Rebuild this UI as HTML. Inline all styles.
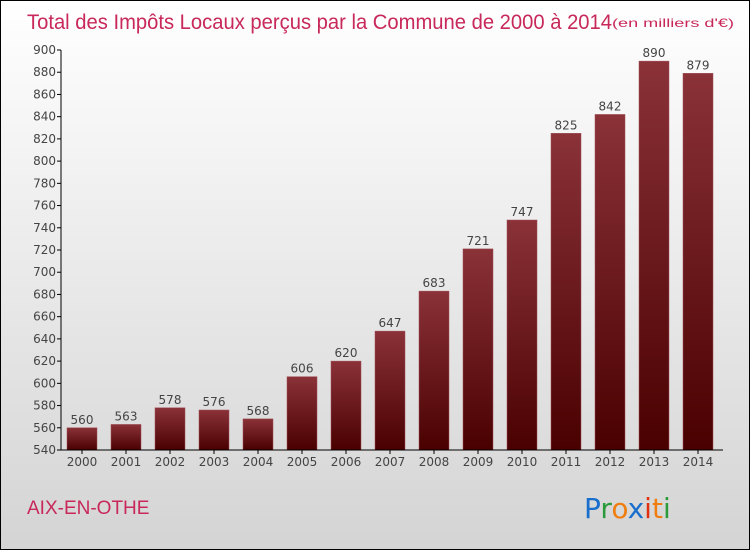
<!DOCTYPE html>
<html><head><meta charset="utf-8"><style>
body{margin:0}
#c{position:relative;width:748px;height:548px;border:1px solid #000;background:linear-gradient(#fff,#d4d4d4);font-family:"DejaVu Sans","Liberation Sans",sans-serif;overflow:hidden}
</style></head><body>
<div id="c">
<svg id="s" width="748" height="548" style="position:absolute;left:0;top:0">
<defs><linearGradient id="bg" x1="0" y1="0" x2="0" y2="1"><stop offset="0" stop-color="#8a3238"/><stop offset="1" stop-color="#4a0000"/></linearGradient></defs>
<text x="26" y="28" font-size="21" fill="#c8285a" font-family="Liberation Sans, sans-serif" textLength="585" lengthAdjust="spacingAndGlyphs">Total des Impôts Locaux perçus par la Commune de 2000 à 2014</text>
<text x="611" y="26" font-size="12" fill="#c8285a" font-family="Liberation Sans, sans-serif" textLength="122" lengthAdjust="spacingAndGlyphs">(en milliers d'€)</text>
<text x="26" y="513" font-size="19" fill="#c8285a" font-family="Liberation Sans, sans-serif">AIX-EN-OTHE</text>
<g font-size="28" font-family="DejaVu Sans, sans-serif"><text x="583" y="517"><tspan fill="#1a6fcc">P</tspan><tspan fill="#2a9a3a">r</tspan><tspan fill="#f07d10">o</tspan><tspan fill="#1a6fcc">x</tspan><tspan fill="#e03010">i</tspan><tspan fill="#f07d10">t</tspan><tspan fill="#2a9a3a">i</tspan></text></g>
<g id="g"></g>
</svg>
</div>
<script>
const years=["2000","2001","2002","2003","2004","2005","2006","2007","2008","2009","2010","2011","2012","2013","2014"];
const values=[560,563,578,576,568,606,620,647,683,721,747,825,842,890,879];
const ticks=[540,560,580,600,620,640,660,680,700,720,740,760,780,800,820,840,860,880,900];
const yMin=540,yMax=900,plotTop=49,plotBot=449,axX=60;
const y=v=>plotBot-(v-yMin)/(yMax-yMin)*(plotBot-plotTop);
const x=i=>81+i*44;
const g=document.getElementById('g');const NS='http://www.w3.org/2000/svg';
function mk(t,a,txt){const e=document.createElementNS(NS,t);for(const k in a)e.setAttribute(k,a[k]);if(txt!==undefined)e.textContent=txt;g.appendChild(e);return e;}
ticks.forEach(t=>{
 let l=mk('line',{x1:axX-4,x2:axX,y1:y(t),y2:y(t),stroke:'#000'});
 
 
 let tx=mk('text',{x:axX-5,y:y(t)+4,'font-size':12,fill:'#444','text-anchor':'end'},t);
 
 
});
values.forEach((v,i)=>{
 let r=mk('rect',{x:x(i)-15,y:y(v),width:30,height:plotBot-y(v),fill:'url(#bg)',stroke:'#a05058','stroke-width':0.5});
 
 
 let t=mk('text',{x:x(i),y:y(v)-4,'font-size':12,fill:'#444','text-anchor':'middle'},v);
 
 
 let tk=mk('line',{x1:x(i),x2:x(i),y1:plotBot,y2:plotBot+4,stroke:'#000'});
 
 
 let xl=mk('text',{x:x(i),y:plotBot+16,'font-size':12,fill:'#444','text-anchor':'middle'},years[i]);
 
 
});
let ya=mk('line',{x1:axX,x2:axX,y1:plotTop,y2:plotBot,stroke:'#000'});


let xa=mk('line',{x1:axX,x2:722,y1:plotBot,y2:plotBot,stroke:'#000'});


</script>
</body></html>
